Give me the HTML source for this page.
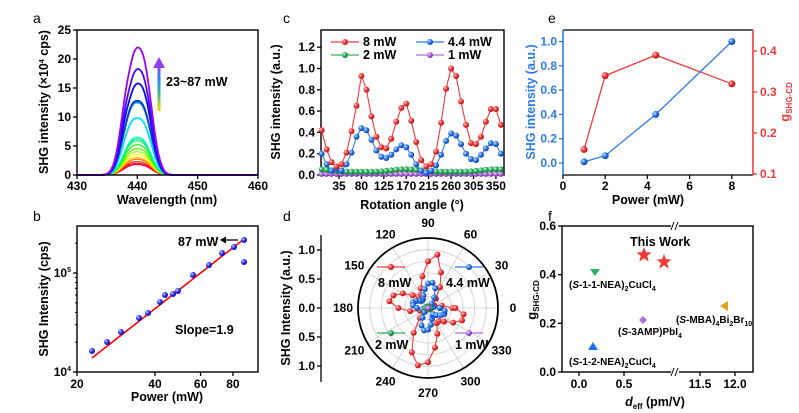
<!DOCTYPE html>
<html><head><meta charset="utf-8"><style>
html,body{margin:0;padding:0;background:#fff;}
svg{display:block;font-family:"Liberation Sans",Arial,sans-serif;font-weight:bold;}
</style></head><body>
<svg id="s" width="799" height="413" viewBox="0 0 799 413" xmlns="http://www.w3.org/2000/svg">
<defs>
<radialGradient id="gr" cx="35%" cy="35%" r="65%"><stop offset="0" stop-color="#ffd0d0"/><stop offset="0.5" stop-color="#f03a3a"/><stop offset="1" stop-color="#c01010"/></radialGradient>
<radialGradient id="gb" cx="35%" cy="35%" r="65%"><stop offset="0" stop-color="#d0e4ff"/><stop offset="0.5" stop-color="#2c7be8"/><stop offset="1" stop-color="#1040b0"/></radialGradient>
<radialGradient id="gg" cx="35%" cy="35%" r="65%"><stop offset="0" stop-color="#d0ffe0"/><stop offset="0.5" stop-color="#30b060"/><stop offset="1" stop-color="#107030"/></radialGradient>
<radialGradient id="gp" cx="35%" cy="35%" r="65%"><stop offset="0" stop-color="#f0e0ff"/><stop offset="0.5" stop-color="#b070e0"/><stop offset="1" stop-color="#7030a0"/></radialGradient>
<radialGradient id="gbb" cx="35%" cy="35%" r="65%"><stop offset="0" stop-color="#e0e0ff"/><stop offset="0.5" stop-color="#3030ff"/><stop offset="1" stop-color="#1010a0"/></radialGradient>
<linearGradient id="arr" x1="0" y1="1" x2="0" y2="0"><stop offset="0" stop-color="#ffd800"/><stop offset="0.35" stop-color="#40c080"/><stop offset="0.65" stop-color="#2090ff"/><stop offset="1" stop-color="#9040f0"/></linearGradient>
</defs>
<g id="g"></g>
</svg>
<script>
var G=document.getElementById('g'),o='';
var TS=12,AS=12.5;
function L(x1,y1,x2,y2,c,w){o+='<line x1="'+x1+'" y1="'+y1+'" x2="'+x2+'" y2="'+y2+'" stroke="'+(c||'#000')+'" stroke-width="'+(w||1.3)+'"/>';}
function T(x,y,s,sz,a,c,extra){o+='<text x="'+x+'" y="'+y+'" font-size="'+(sz||TS)+'" text-anchor="'+(a||'middle')+'" fill="'+(c||'#000')+'" '+(extra||'')+'>'+s+'</text>';}
function P(pts,c,w){o+='<polyline fill="none" stroke="'+c+'" stroke-width="'+(w||1.2)+'" points="'+pts.map(function(p){return p[0].toFixed(1)+','+p[1].toFixed(1)}).join(' ')+'"/>';}
function C(x,y,r,f){o+='<circle cx="'+x.toFixed(1)+'" cy="'+y.toFixed(1)+'" r="'+r+'" fill="'+f+'"/>';}
function R(x,y,w,h,c){o+='<rect x="'+x+'" y="'+y+'" width="'+w+'" height="'+h+'" fill="none" stroke="'+(c||'#000')+'" stroke-width="1.4"/>';}
function LBL(x,y,s){T(x,y,s,14,'start','#000','font-weight="normal"');}
// ===== a =====
LBL(33,23,'a');
var ax=function(w){return 77+(w-430)/30*181},ay=function(v){return 175-v/25*145};
var amps=[22,18.3,15.8,12.8,12.5,9.8,6.5,6.2,5.9,5.2,4.5,4,3.5,3,2.7,2.3,2,1.8];
for(var i=amps.length-1;i>=0;i--){var h=275-i*(300/17);if(h<0)h+=360;var col='hsl('+h+',95%,'+(i==3?'40%':'50%')+')';
 var pts=[];for(var w=430;w<=460;w+=0.25){var d=w-440,v=amps[i]*Math.exp(-Math.pow(Math.abs(d)/2.8,2.6));if(d<0&&amps[i]>15)v*=1-0.06*Math.exp(-Math.pow((d+1.3)/0.8,2));pts.push([ax(w),ay(v)]);}
 P(pts,col,i<6?1.8:1.2);}
R(77,30,181,145);
[0,5,10,15,20,25].forEach(function(v){L(77,ay(v),73,ay(v));T(71,ay(v)+4,v,TS,'end');});
[430,440,450,460].forEach(function(w){L(ax(w),175,ax(w),179);T(ax(w),190,w,TS);});
T(167,204,'Wavelength (nm)',AS);
T(0,0,'SHG intensity (×10<tspan dy="-4" font-size="7">4</tspan><tspan dy="4"> cps)</tspan>',AS,'middle','#000','transform="translate(48,102) rotate(-90)"');
o+='<rect x="157.5" y="65" width="3" height="46" fill="url(#arr)"/><polygon points="153,68 159,57 165,68" fill="#9040f0"/>';
T(166,86,'23~87 mW',AS,'start');
// ===== b =====
LBL(33,221,'b');
var bx=function(p){return 77+Math.log10(p/20)*259},by=function(v){return 372-(Math.log10(v)-4)*99};
R(77,226,181,146);
L(77,273,73,273);L(77,372,73,372);
for(var k=2;k<10;k++){L(77,by(k*1e4),75,by(k*1e4),'#000',1);}
L(77,by(2e5),75,by(2e5),'#000',1);
T(71,277,'10<tspan dy="-5" font-size="7">5</tspan>',TS,'end');T(71,376,'10<tspan dy="-5" font-size="7">4</tspan>',TS,'end');
[20,40,60,80].forEach(function(p){L(bx(p),372,bx(p),376);T(bx(p),388,p,TS);});
T(167,401,'Power (mW)',AS);
T(0,0,'SHG Intensity (cps)',AS,'middle','#000','transform="translate(48,299) rotate(-90)"');
L(92,358,244,239,'#f00',1.6);
[[92,351],[107,342],[121,332],[139,318],[148,313],[160,302],[165,295],[173,294],[178,291],[193,275],[209,265],[222,253],[234,247],[244,240],[244,262]].forEach(function(p){C(p[0],p[1],3,'url(#gbb)');});
T(178,246,'87 mW',AS,'start');L(222,240,238,240,'#000',1.3);o+='<polygon points="220,240 226,236.5 226,243.5" fill="#000"/>';
T(175,334,'Slope=1.9',AS,'start');
// ===== c =====
LBL(283,23,'c');
var cx=function(a){return 321.6+a*0.498},cy=function(v){return 175-v*106.5};
R(321,30,183,145);
[0,0.2,0.4,0.6,0.8,1.0,1.2].forEach(function(v){L(321,cy(v),317,cy(v));T(315,cy(v)+4,v.toFixed(1),TS,'end');});
[35,80,125,170,215,260,305,350].forEach(function(a){L(cx(a),175,cx(a),179);T(cx(a),190,a,TS);});
T(412,209,'Rotation angle (°)',AS);
T(0,0,'SHG intensity (a.u.)',AS,'middle','#000','transform="translate(280,102) rotate(-90)"');
var red=[0.42,0.24,0.12,0.08,0.1,0.21,0.41,0.65,0.93,0.8,0.55,0.36,0.26,0.25,0.34,0.5,0.63,0.67,0.51,0.31,0.14,0.08,0.1,0.22,0.49,0.81,1.0,0.93,0.69,0.47,0.3,0.29,0.36,0.5,0.62,0.62,0.47];
var blu=[0.2,0.1,0.04,0.06,0.04,0.1,0.21,0.36,0.44,0.42,0.33,0.23,0.17,0.16,0.19,0.24,0.28,0.26,0.19,0.1,0.04,0.02,0.04,0.09,0.19,0.32,0.39,0.37,0.29,0.2,0.15,0.14,0.19,0.25,0.3,0.29,0.2];
var grn=[],pur=[];for(var i=0;i<37;i++){grn.push(0.03+0.02*Math.pow(Math.abs(Math.sin((i*10-80)*Math.PI/180)),4)*1.2);pur.push(0.01);}
function series(d,col,g){var pts=d.map(function(v,i){return[cx(i*10),cy(v)]});P(pts,col,1.1);pts.forEach(function(p){C(p[0],p[1],3,g)});}
series(pur,'#b070e0','url(#gp)');series(grn,'#30b060','url(#gg)');series(blu,'#2c7be8','url(#gb)');series(red,'#f03a3a','url(#gr)');
function leg(x,y,col,g,t){L(x,y,x+28,y,col,1.3);C(x+14,y,3,g);T(x+32,y+4,t,AS,'start');}
leg(331,42,'#f03a3a','url(#gr)','8 mW');leg(416,42,'#2c7be8','url(#gb)','4.4 mW');
leg(331,55,'#30b060','url(#gg)','2 mW');leg(416,55,'#b070e0','url(#gp)','1 mW');
// ===== d =====
LBL(283,221,'d');
var pcx=428,pcy=308,pr=70,sc=58.3;
[0.2,0.4,0.6,0.8,1.0].forEach(function(v){o+='<circle cx="'+pcx+'" cy="'+pcy+'" r="'+(v*sc)+'" fill="none" stroke="#ccc" stroke-width="0.8"/>';});
for(var a=0;a<180;a+=30){var r=Math.PI*a/180;L(pcx-pr*Math.cos(r),pcy+pr*Math.sin(r),pcx+pr*Math.cos(r),pcy-pr*Math.sin(r),'#ccc',0.8);}
o+='<circle cx="'+pcx+'" cy="'+pcy+'" r="'+pr+'" fill="none" stroke="#000" stroke-width="1.8"/>';
for(var a=0;a<360;a+=30){var r=Math.PI*a/180,rr=pr+15;T(pcx+rr*Math.cos(r),pcy-rr*Math.sin(r)+4,a,TS);}
function pser(d,col,g,rad){var pts=d.map(function(v,i){var t=i*10*Math.PI/180;return[pcx+v*sc*Math.cos(t),pcy-v*sc*Math.sin(t)]});P(pts,col,1.1);pts.forEach(function(p){C(p[0],p[1],rad,g)});}
pser(red,'#f03a3a','url(#gr)',3);pser(blu,'#2c7be8','url(#gb)',3);pser(grn,'#30b060','url(#gg)',2.5);pser(pur,'#b070e0','url(#gp)',2.5);
L(321,235,321,382,'#000',1.3);
[[250,'1.0'],[279,'0.5'],[308,'0.0'],[337,'0.5'],[366,'1.0']].forEach(function(p){L(321,p[0],317,p[0]);T(315,p[0]+4,p[1],TS,'end');});
T(0,0,'SHG Intensity (a.u.)',AS,'middle','#000','transform="translate(290,308) rotate(-90)"');
function leg2(x,y,col,g){L(x,y,x+28,y,col,1.3);C(x+14,y,3,g);}
leg2(377,267,'#f03a3a','url(#gr)');T(378,287,'8 mW',AS,'start');
leg2(455,267,'#2c7be8','url(#gb)');T(446,287,'4.4 mW',AS,'start');
leg2(377,333,'#30b060','url(#gg)');T(375,349,'2 mW',AS,'start');
leg2(455,333,'#b070e0','url(#gp)');T(455,349,'1 mW',AS,'start');
// ===== e =====
LBL(548,23,'e');
var ex=function(p){return 563+p*21.1},eyl=function(v){return 163-v*121.5},eyr=function(v){return 174-(v-0.1)*410};
L(563,30,753,30,'#000',1.3);L(563,175,753,175,'#000',1.3);L(563,30,563,175,'#2c7be8',1.6);L(753,30,753,175,'#f03a3a',1.6);
[0,0.2,0.4,0.6,0.8,1.0].forEach(function(v){L(563,eyl(v),559,eyl(v),'#2c7be8');T(557,eyl(v)+4,v.toFixed(1),TS,'end','#2c7be8');});
[0.1,0.2,0.3,0.4].forEach(function(v){L(753,eyr(v),757,eyr(v),'#f03a3a');T(760,eyr(v)+4,v.toFixed(1),TS,'start','#f03a3a');});
[0,2,4,6,8].forEach(function(p){L(ex(p),175,ex(p),179);T(ex(p),190,p,TS);});
T(648,204,'Power (mW)',AS);
T(0,0,'SHG intensity (a.u.)',AS,'middle','#2c7be8','transform="translate(535,102) rotate(-90)"');
T(0,0,'g<tspan dy="3" font-size="8">SHG-CD</tspan>',13,'middle','#f03a3a','transform="translate(789,102) rotate(-90)"');
var eb=[[1,0.01],[2,0.06],[4.4,0.4],[8,1.0]].map(function(p){return[ex(p[0]),eyl(p[1])]});
var er=[[1,0.16],[2,0.34],[4.4,0.39],[8,0.32]].map(function(p){return[ex(p[0]),eyr(p[1])]});
P(er,'#f03a3a',1.3);P(eb,'#2c7be8',1.3);
er.forEach(function(p){C(p[0],p[1],3.5,'url(#gr)')});eb.forEach(function(p){C(p[0],p[1],3.5,'url(#gb)')});
// ===== f =====
LBL(548,221,'f');
var fy=function(v){return 372-v*243.3};
R(562,226,191,146);
o+='<rect x="671" y="222" width="8" height="8" fill="#fff"/><rect x="671" y="368" width="8" height="8" fill="#fff"/>';
L(671,230,674,222,'#000',1);L(675,230,678,222,'#000',1);L(671,376,674,368,'#000',1);L(675,376,678,368,'#000',1);
[0,0.2,0.4,0.6].forEach(function(v){L(562,fy(v),558,fy(v));T(556,fy(v)+4,v.toFixed(1),TS,'end');});
[[579,'0.0'],[624,'0.5'],[700,'11.5'],[735,'12.0']].forEach(function(p){L(p[0],372,p[0],376);T(p[0],388,p[1],TS);});
T(655,406,'<tspan font-style="italic">d</tspan><tspan dy="3" font-size="8">eff</tspan><tspan dy="-3"> (pm/V)</tspan>',AS);
T(0,0,'g<tspan dy="3" font-size="8">SHG-CD</tspan>',13,'middle','#000','transform="translate(536,300) rotate(-90)"');
function star(x,y,R1,c){var s='';for(var i=0;i<10;i++){var r=i%2?R1*0.42:R1,t=-Math.PI/2+i*Math.PI/5;s+=(x+r*Math.cos(t)).toFixed(1)+','+(y+r*Math.sin(t)).toFixed(1)+' ';}o+='<polygon points="'+s+'" fill="'+c+'"/>';}
star(644,255,8,'#f03a3a');star(664,262,8,'#f03a3a');
o+='<polygon points="590,269 600,269 595,276" fill="#30b060"/>';
o+='<polygon points="643,316 647,320 643,324 639,320" fill="#b070e0"/>';
o+='<polygon points="593,342 598,350 588,350" fill="#1e78e8"/>';
o+='<polygon points="720,306 728,301 728,311" fill="#e0a020"/>';
T(630,246,'This Work',AS,'start');
T(569,288,'(<tspan font-style="italic">S</tspan>-1-1-NEA)<tspan dy="3" font-size="7">2</tspan><tspan dy="-3">CuCl</tspan><tspan dy="3" font-size="7">4</tspan>',10,'start');
T(676,323,'(<tspan font-style="italic">S</tspan>-MBA)<tspan dy="3" font-size="7">4</tspan><tspan dy="-3">Bi</tspan><tspan dy="3" font-size="7">2</tspan><tspan dy="-3">Br</tspan><tspan dy="3" font-size="7">10</tspan>',10,'start');
T(618,335,'(<tspan font-style="italic">S</tspan>-3AMP)PbI<tspan dy="3" font-size="7">4</tspan>',10,'start');
T(569,365,'(<tspan font-style="italic">S</tspan>-1-2-NEA)<tspan dy="3" font-size="7">2</tspan><tspan dy="-3">CuCl</tspan><tspan dy="3" font-size="7">4</tspan>',10,'start');
G.innerHTML=o;
</script>
</body></html>
